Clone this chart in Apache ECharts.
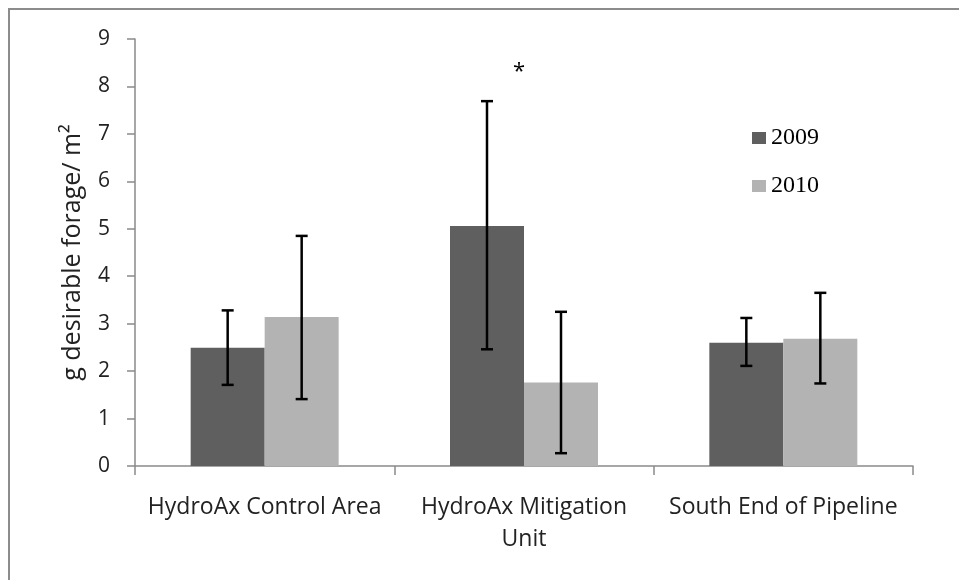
<!DOCTYPE html>
<html>
<head>
<meta charset="utf-8">
<script src="https://cdn.jsdelivr.net/npm/echarts@6/dist/echarts.min.js"></script>
<style>
  html, body { margin: 0; padding: 0; background: #fff; }
  #chart { width: 959px; height: 580px; }
</style>
</head>
<body>
<div id="chart"></div>
<script>
var categories = ['HydroAx Control Area', 'HydroAx Mitigation Unit', 'South End of Pipeline']
var years = ['2009', '2010']
var values2009 = [2.49, 5.06, 2.60]
var values2010 = [3.14, 1.76, 2.68]
// error bar ends [low, high]
var err2009 = [[1.71, 3.28], [2.46, 7.69], [2.11, 3.12]]
var err2010 = [[1.41, 4.85], [0.27, 3.25], [1.74, 3.65]]
var yTicks = [0, 1, 2, 3, 4, 5, 6, 7, 8, 9]
var starMark = ['HydroAx Mitigation Unit', 8.3]

var dark = '#5f5f5f'
var light = '#b3b3b3'
var axisColor = '#8a8a8a'
var labelFont = '"Open Sans", "Liberation Sans", sans-serif'

var myChart = echarts.init(document.getElementById('chart'))

// error bars drawn next to each bar, offset by half a bar
function errorSeries (name, ends, offset) {
  return {
    name: name + ' err',
    type: 'custom',
    z: 5,
    silent: true,
    data: ends.map(function (e, i) { return [i, e[0], e[1]] }),
    renderItem: function (params, api) {
      var lo = api.coord([api.value(0), api.value(1)])
      var hi = api.coord([api.value(0), api.value(2)])
      var x = lo[0] + offset
      var cap = 6
      var style = { stroke: '#000', lineWidth: 2.5 }
      return {
        type: 'group',
        children: [
          { type: 'line', shape: { x1: x, y1: hi[1], x2: x, y2: lo[1] }, style: style },
          { type: 'line', shape: { x1: x - cap, y1: hi[1], x2: x + cap, y2: hi[1] }, style: style },
          { type: 'line', shape: { x1: x - cap, y1: lo[1], x2: x + cap, y2: lo[1] }, style: style }
        ]
      }
    }
  }
}

var option = {
  backgroundColor: '#fff',
  animation: false,
  graphic: [{
    type: 'rect',
    shape: { x: 9, y: 9, width: 1000, height: 1000 },
    style: { fill: 'none', stroke: '#8c8c8c', lineWidth: 2 },
    silent: true
  }],
  legend: {
    orient: 'vertical',
    left: 752,
    top: 126,
    padding: 0,
    itemWidth: 14,
    itemHeight: 12,
    itemGap: 24,
    icon: 'rect',
    data: years,
    textStyle: {
      fontFamily: '"Liberation Serif", serif',
      fontSize: 24,
      lineHeight: 24,
      color: '#000'
    }
  },
  grid: {
    left: 135,
    right: 46,
    top: 39,
    bottom: 114
  },
  xAxis: {
    type: 'category',
    data: categories,
    axisLine: { lineStyle: { color: axisColor, width: 1.5 } },
    axisTick: { show: true, length: 9, lineStyle: { color: axisColor, width: 1.5 } },
    axisLabel: {
      color: '#222',
      fontFamily: labelFont,
      fontSize: 23,
      lineHeight: 32,
      margin: 25,
      interval: 0,
      formatter: function (v) { return v.replace('Mitigation Unit', 'Mitigation\nUnit') }
    }
  },
  yAxis: {
    type: 'value',
    min: yTicks[0],
    max: yTicks[yTicks.length - 1],
    interval: 1,
    name: 'g desirable forage/ m²',
    nameLocation: 'middle',
    nameGap: 50,
    nameTextStyle: { color: '#222', fontFamily: labelFont, fontSize: 25 },
    axisLine: { show: true, lineStyle: { color: axisColor, width: 1.5 } },
    axisTick: { show: true, length: 8, lineStyle: { color: axisColor, width: 1.5 } },
    splitLine: { show: false },
    axisLabel: { color: '#222', fontFamily: labelFont, fontSize: 21, margin: 25 }
  },
  series: [
    {
      name: '2009',
      type: 'bar',
      barWidth: 74,
      barGap: '0%',
      itemStyle: { color: dark },
      data: values2009,
      markPoint: {
        symbol: 'circle',
        symbolSize: 1,
        itemStyle: { color: 'rgba(0,0,0,0)' },
        label: {
          show: true,
          position: 'inside',
          formatter: '*',
          color: '#000',
          fontFamily: labelFont,
          fontSize: 22,
          offset: [32, 0]
        },
        data: [{ coord: starMark }]
      }
    },
    {
      name: '2010',
      type: 'bar',
      barWidth: 74,
      barGap: '0%',
      itemStyle: { color: light },
      data: values2010
    },
    errorSeries('2009', err2009, -37),
    errorSeries('2010', err2010, 37)
  ]
}

myChart.setOption(option)
</script>
</body>
</html>
